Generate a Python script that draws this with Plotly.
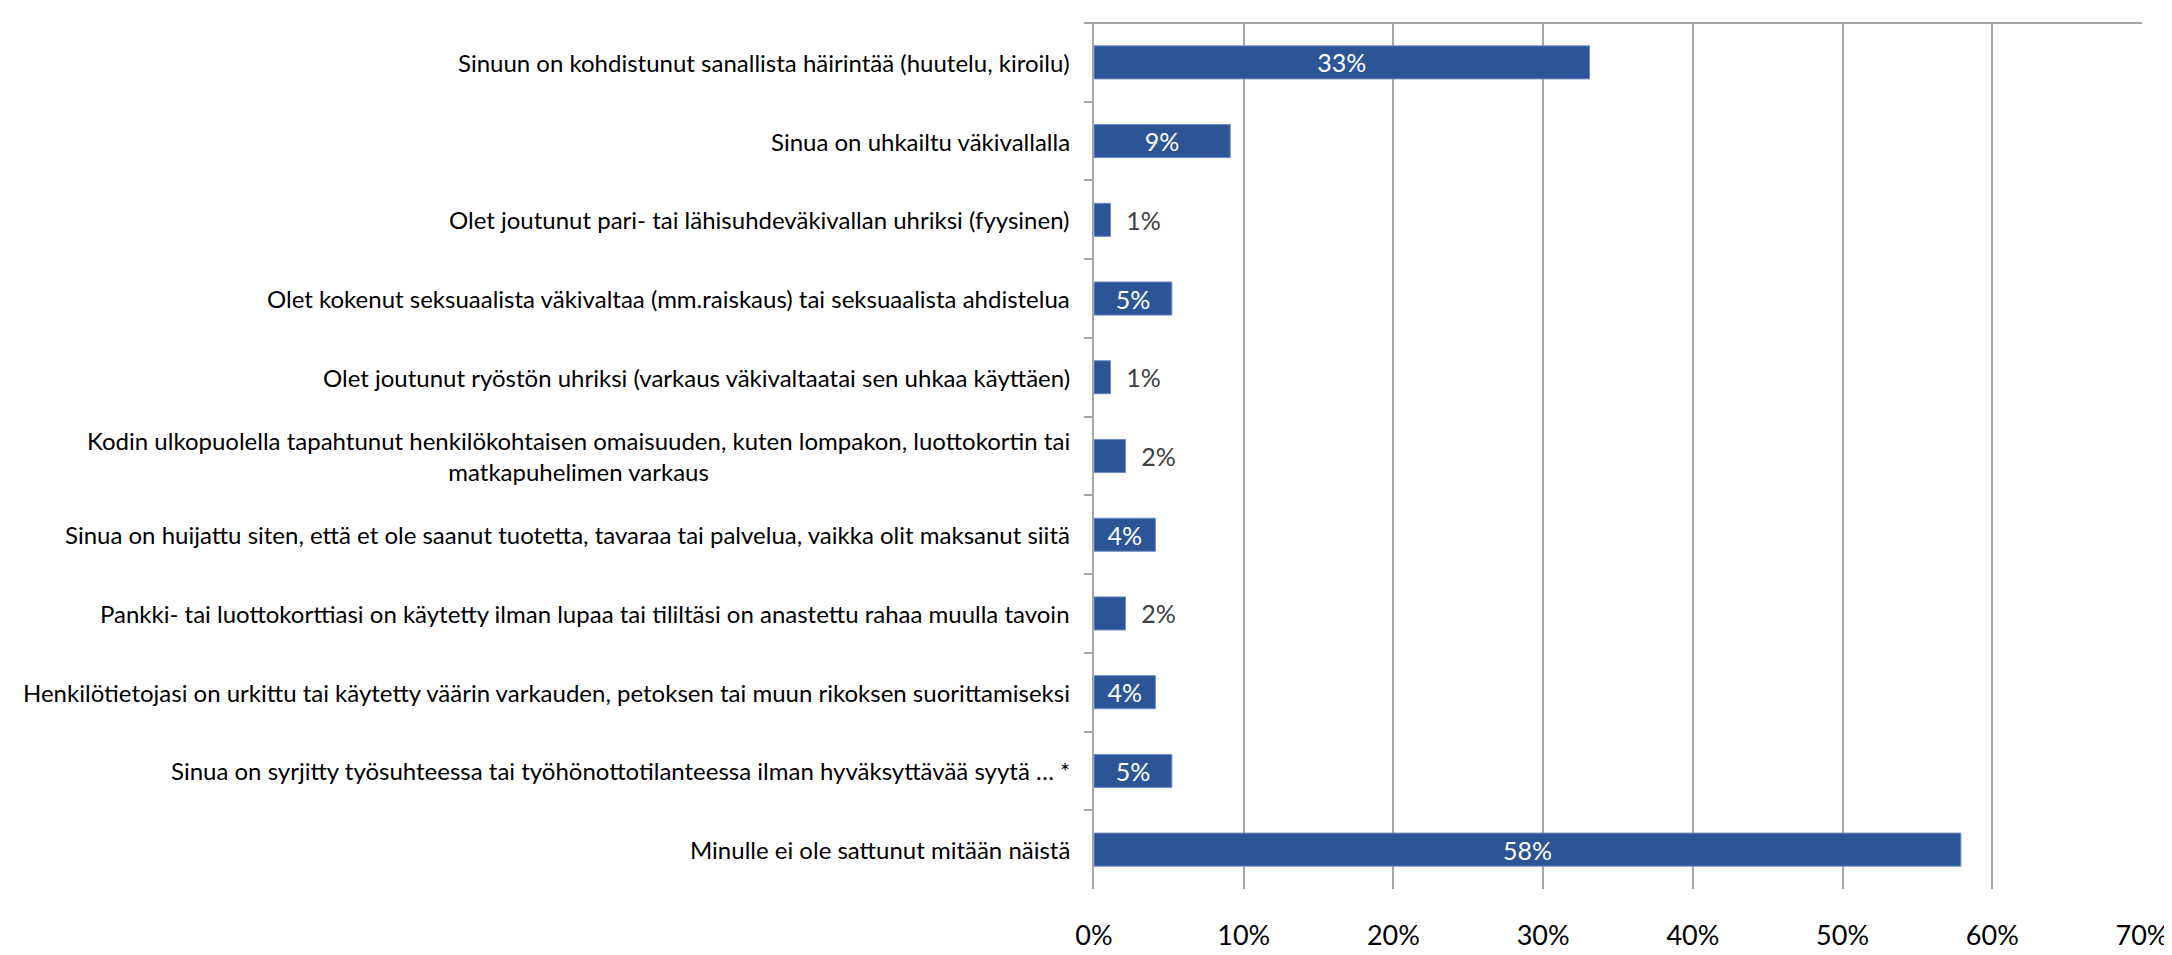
import plotly.graph_objects as go

categories = [
    "Sinuun on kohdistunut sanallista häirintää (huutelu, kiroilu)",
    "Sinua on uhkailtu väkivallalla",
    "Olet joutunut pari- tai lähisuhdeväkivallan uhriksi (fyysinen)",
    "Olet kokenut seksuaalista väkivaltaa (mm.raiskaus) tai seksuaalista ahdistelua",
    "Olet joutunut ryöstön uhriksi (varkaus väkivaltaatai sen uhkaa käyttäen)",
    "Kodin ulkopuolella tapahtunut henkilökohtaisen omaisuuden, kuten lompakon, luottokortin tai<br>matkapuhelimen varkaus",
    "Sinua on huijattu siten, että et ole saanut tuotetta, tavaraa tai palvelua, vaikka olit maksanut siitä",
    "Pankki- tai luottokorttiasi on käytetty ilman lupaa tai tililtäsi on anastettu rahaa muulla tavoin",
    "Henkilötietojasi on urkittu tai käytetty väärin varkauden, petoksen tai muun rikoksen suorittamiseksi",
    "Sinua on syrjitty työsuhteessa tai työhönottotilanteessa ilman hyväksyttävää syytä … *",
    "Minulle ei ole sattunut mitään näistä",
]
values = [0.331, 0.091, 0.011, 0.052, 0.011, 0.021, 0.041, 0.021, 0.041, 0.052, 0.579]
label_pos = ["inside", "inside", "outside", "inside", "outside", "outside",
             "inside", "outside", "inside", "inside", "inside"]

font = "Lato, 'Open Sans', sans-serif"
grid = "#a6a6a6"

# outside labels sit a little away from the bar end
templates = ["%{x:.0%}" if p == "inside" else "\u00a0\u00a0%{x:.0%}" for p in label_pos]

fig = go.Figure(go.Bar(
    x=values, y=categories, orientation="h",
    marker=dict(color="#2b5597", line=dict(color="#6d8cc4", width=1)),
    texttemplate=templates, textposition=label_pos,
    insidetextanchor="middle", constraintext="none",
    insidetextfont=dict(color="white", size=25, family=font),
    outsidetextfont=dict(color="#404040", size=25, family=font),
    cliponaxis=False,
))

# category labels as annotations so wrapped lines are centred
for c in categories:
    fig.add_annotation(x=0, y=c, xref="paper", yref="y", text=c,
                       xanchor="right", xshift=-22, align="center",
                       showarrow=False, font=dict(size=24, color="#000000", family=font))

fig.add_shape(type="line", xref="paper", yref="paper", x0=-0.007, x1=1, y0=1, y1=1,
              line=dict(color=grid, width=2))

fig.update_layout(
    width=2172, height=955,
    margin=dict(l=1086, r=37, t=15, b=49),
    plot_bgcolor="white", paper_bgcolor="white",
    bargap=0.58, showlegend=False,
    uniformtext=dict(minsize=10, mode="show"),
    xaxis=dict(range=[0, 0.7], dtick=0.1, tickformat=".0%", showgrid=True,
               gridcolor=grid, gridwidth=1.5, zeroline=False, showline=False,
               ticks="", ticklabelstandoff=28,
               tickfont=dict(size=27, color="#000000", family=font)),
    yaxis=dict(autorange="reversed", showticklabels=False, showline=True,
               linecolor=grid, linewidth=2, ticks="outside", tickson="boundaries",
               ticklen=8, tickcolor=grid, tickwidth=2, showgrid=False),
)

fig.write_html("out.html")
